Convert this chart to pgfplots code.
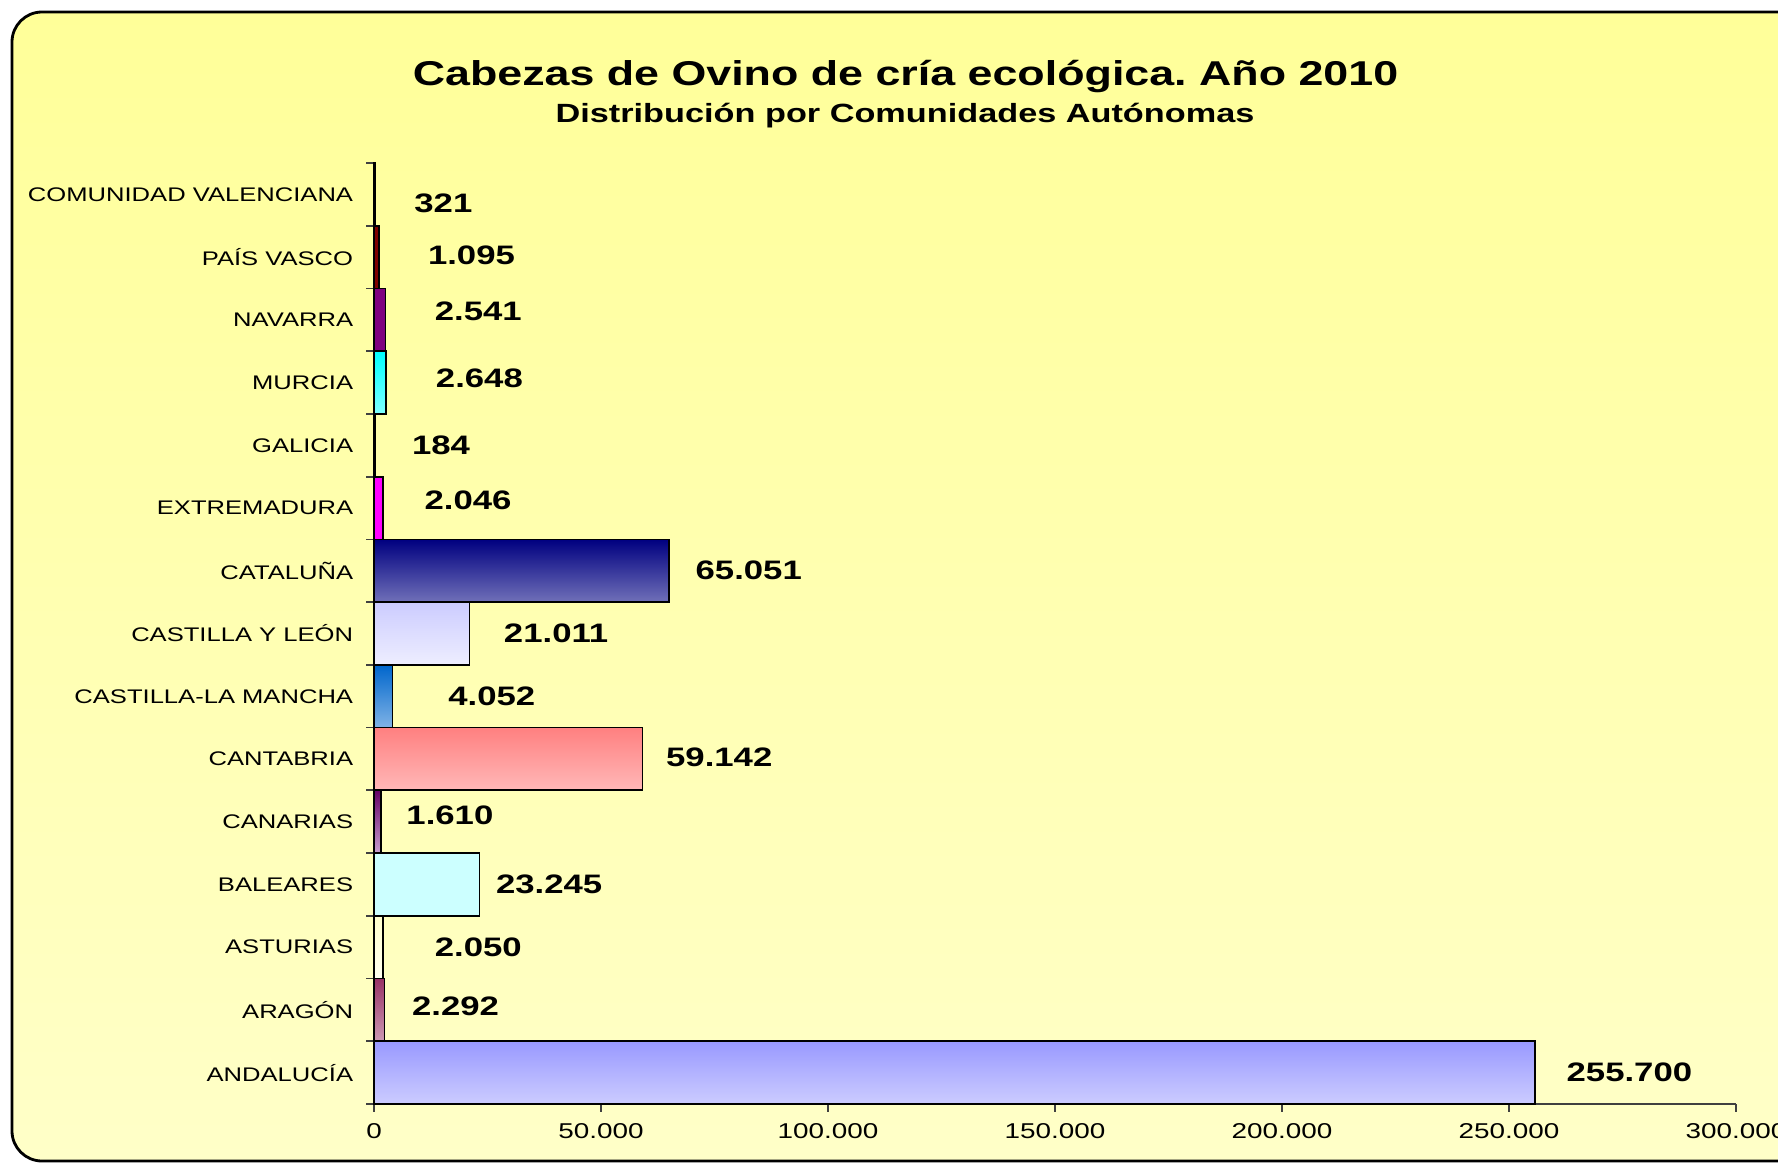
\documentclass[border=0pt]{standalone}
\usepackage{pgfplots}
\pgfplotsset{compat=1.18}
\usepackage{fontspec}
\setmainfont{Liberation Sans}
% the reference is stretched sideways, so the font is too
\newfontfamily\cf[FakeStretch=1.3]{Liberation Sans}

\definecolor{bgtop}{HTML}{FFFF99}
\definecolor{bgbot}{HTML}{FFFFC8}

\pgfplotsset{
  mybar/.style={xbar, bar width=1, bar shift=0pt, draw=black, line width=0.5pt},
}

\begin{document}
\frenchspacing
\begin{tikzpicture}
  \useasboundingbox (0,0) rectangle (17.78,11.62);
  \fill[white] (0,0) rectangle (17.78,11.62);
  \draw[line width=0.8pt, rounded corners=3mm, top color=bgtop, bottom color=bgbot]
    (0.12,11.50) rectangle (18.6,0.01);

  \node[anchor=base, font=\cf\bfseries\fontsize{9.8}{11}\selectfont] at (9.055,10.77)
    {Cabezas de Ovino de cría ecológica. Año 2010};
  \node[anchor=base, font=\cf\bfseries\fontsize{7.5}{9}\selectfont] at (9.05,10.40)
    {Distribución por Comunidades Autónomas};

  \begin{axis}[
      at={(3.74cm,0.58cm)}, anchor=south west,
      scale only axis, width=13.62cm, height=9.41cm,
      xmin=0, xmax=300000, ymin=-0.5, ymax=14.5,
      axis lines*=left,
      axis line style={black!75, line width=0.5pt},
      tick align=outside, major tick length=0.75mm,
      tick style={black!75, line width=0.5pt},
      xtick={0,50000,100000,150000,200000,250000,300000},
      scaled x ticks=false,
      xticklabel style={font=\cf\fontsize{6.1}{7}\selectfont,
        /pgf/number format/.cd, fixed, precision=0, 1000 sep={.}, assume math mode=true},
      ytick={-0.5,0.5,...,14.5}, yticklabels={},
      extra y ticks={0,1,2,3,4,5,6,7,8,9,10,11,12,13,14},
      extra y tick labels={ANDALUCÍA,ARAGÓN,ASTURIAS,BALEARES,CANARIAS,CANTABRIA,CASTILLA-LA MANCHA,CASTILLA Y LEÓN,CATALUÑA,EXTREMADURA,GALICIA,MURCIA,NAVARRA,PAÍS VASCO,COMUNIDAD VALENCIANA},
      extra y tick style={major tick length=0pt,
        yticklabel style={font=\cf\fontsize{5.6}{7}\selectfont, xshift=-0.85mm}},
      clip=false,
    ]
    \addplot[mybar, top color={rgb,255:red,153;green,153;blue,255}, bottom color={rgb,255:red,204;green,204;blue,255}] coordinates {(255700,0)};
    \addplot[mybar, top color={rgb,255:red,153;green,51;blue,102}, bottom color={rgb,255:red,204;green,153;blue,180}] coordinates {(2292,1)};
    \addplot[mybar, top color={rgb,255:red,255;green,255;blue,204}, bottom color={rgb,255:red,255;green,255;blue,240}] coordinates {(2050,2)};
    \addplot[mybar, fill={rgb,255:red,204;green,255;blue,255}] coordinates {(23245,3)};
    \addplot[mybar, top color={rgb,255:red,102;green,0;blue,102}, bottom color={rgb,255:red,200;green,160;blue,208}] coordinates {(1610,4)};
    \addplot[mybar, top color={rgb,255:red,255;green,128;blue,128}, bottom color={rgb,255:red,255;green,184;blue,184}] coordinates {(59142,5)};
    \addplot[mybar, top color={rgb,255:red,0;green,102;blue,204}, bottom color={rgb,255:red,128;green,179;blue,230}] coordinates {(4052,6)};
    \addplot[mybar, top color={rgb,255:red,204;green,204;blue,255}, bottom color={rgb,255:red,238;green,238;blue,255}] coordinates {(21011,7)};
    \addplot[mybar, top color={rgb,255:red,0;green,0;blue,128}, bottom color={rgb,255:red,112;green,112;blue,184}] coordinates {(65051,8)};
    \addplot[mybar, fill={rgb,255:red,255;green,0;blue,255}] coordinates {(2046,9)};
    \addplot[mybar, fill={rgb,255:red,153;green,51;blue,0}] coordinates {(184,10)};
    \addplot[mybar, top color={rgb,255:red,0;green,255;blue,255}, bottom color={rgb,255:red,128;green,255;blue,255}] coordinates {(2648,11)};
    \addplot[mybar, fill={rgb,255:red,128;green,0;blue,128}] coordinates {(2541,12)};
    \addplot[mybar, fill={rgb,255:red,128;green,0;blue,0}] coordinates {(1095,13)};
    \addplot[mybar, fill={rgb,255:red,51;green,153;blue,102}] coordinates {(321,14)};

    % value labels, placed where the reference has them
    \begin{scope}[every node/.style={anchor=west, inner sep=0pt, font=\cf\bfseries\fontsize{7.6}{9}\selectfont}]
      \node at (axis cs:262540,0) {255.700};
      \node at (axis cs:8244,1.05) {2.292};
      \node at (axis cs:13240,2) {2.050};
      \node at (axis cs:26729,3) {23.245};
      \node at (axis cs:6994,4.1) {1.610};
      \node at (axis cs:64199,5.03) {59.142};
      \node at (axis cs:16237,6) {4.052};
      \node at (axis cs:28477,7) {21.011};
      \node at (axis cs:70693,8) {65.051};
      \node at (axis cs:10991,9.12) {2.046};
      \node at (axis cs:8244,10) {184};
      \node at (axis cs:13490,11.07) {2.648};
      \node at (axis cs:13240,12.13) {2.541};
      \node at (axis cs:11741,13.03) {1.095};
      \node at (axis cs:8743,13.85) {321};
    \end{scope}
  \end{axis}
\end{tikzpicture}
\end{document}
